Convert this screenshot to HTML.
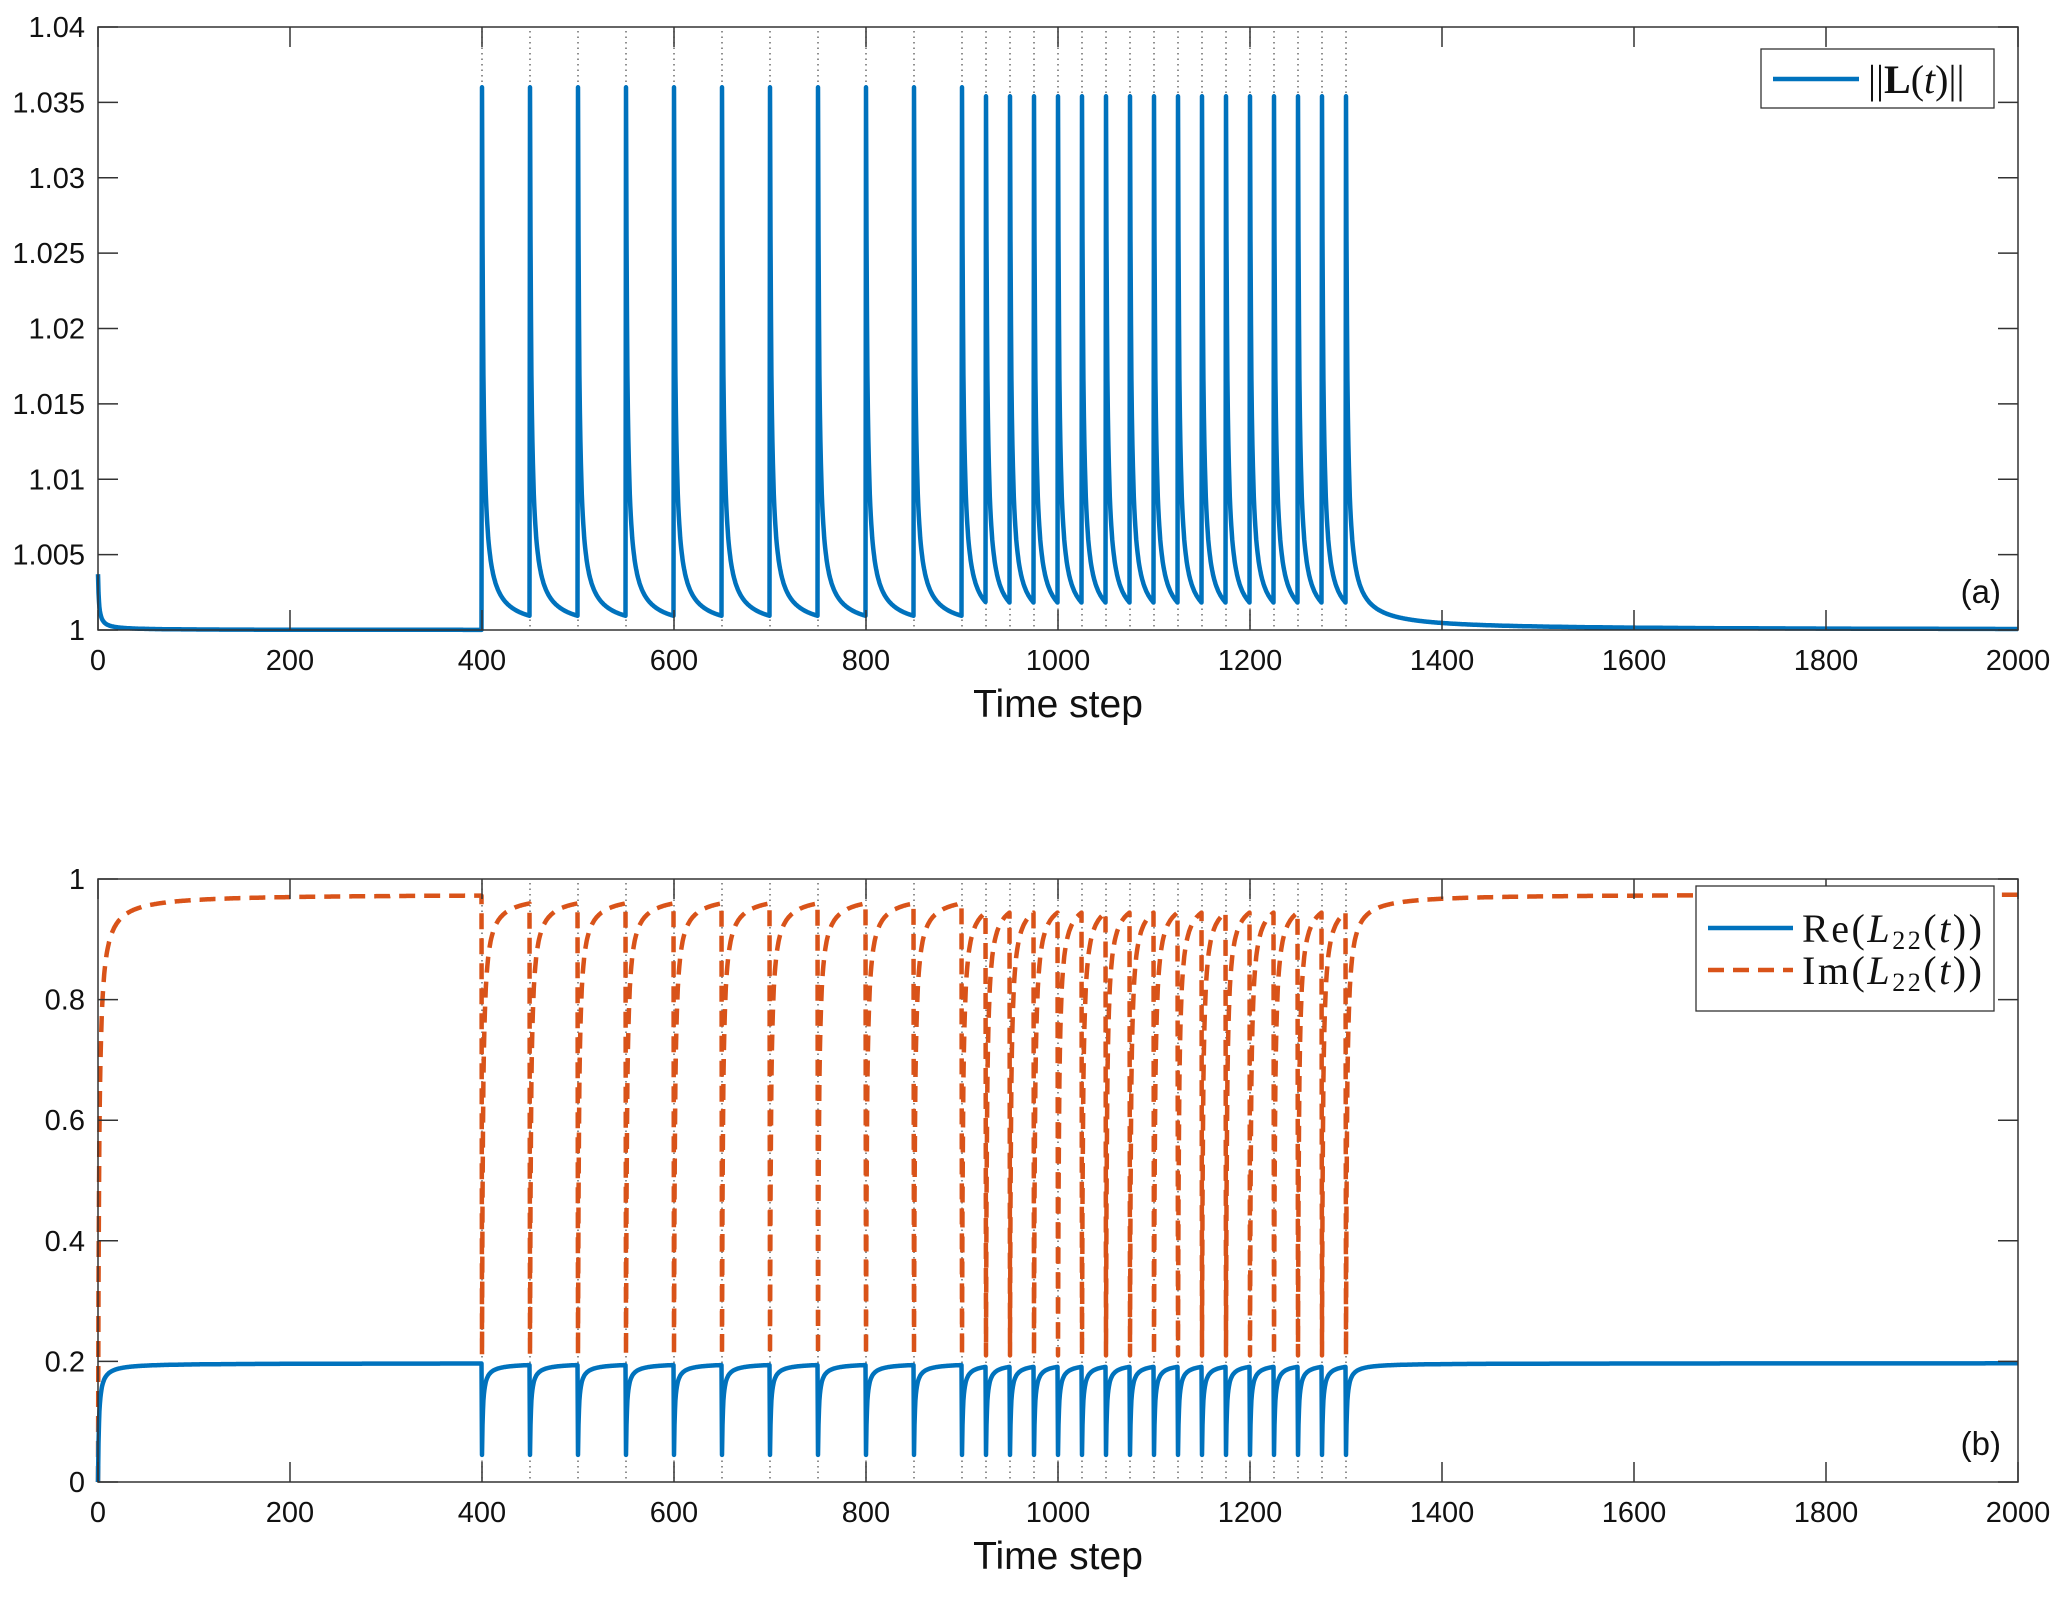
<!DOCTYPE html>
<html><head><meta charset="utf-8"><style>
html,body{margin:0;padding:0;background:#fff;}
svg{display:block;}
text{font-family:"Liberation Sans",sans-serif;fill:#111;}
.math{font-family:"Liberation Serif",serif;}
</style></head><body>
<svg id="fig" width="2067" height="1597" viewBox="0 0 2067 1597" xmlns="http://www.w3.org/2000/svg">
<g id="panelA"></g>
<g id="panelB"></g>
</svg>
<script>
// ---- data ----
const pulseTimes = [400,450,500,550,600,650,700,750,800,850,900,925,950,975,1000,1025,1050,1075,1100,1125,1150,1175,1200,1225,1250,1275,1300];
const normPeak = [1.036,1.036,1.036,1.036,1.036,1.036,1.036,1.036,1.036,1.036,1.036,1.0354,1.0354,1.0354,1.0354,1.0354,1.0354,1.0354,1.0354,1.0354,1.0354,1.0354,1.0354,1.0354,1.0354,1.0354,1.0354];
const normStart = 1.0037;
const normBase = 1.0;
const reBase = 0.197, reDip = 0.045;
const imBase = 0.975, imDip = 0.21;
const recoveryRate = 0.75;
const xTicks = [0,200,400,600,800,1000,1200,1400,1600,1800,2000];
const yTicksA = [1,1.005,1.01,1.015,1.02,1.025,1.03,1.035,1.04];
const yTicksALabels = ["1","1.005","1.01","1.015","1.02","1.025","1.03","1.035","1.04"];
const yTicksB = [0,0.2,0.4,0.6,0.8,1];
const yTicksBLabels = ["0","0.2","0.4","0.6","0.8","1"];

const NS="http://www.w3.org/2000/svg";
function mk(parent,tag,attrs){const e=document.createElementNS(NS,tag);for(const k in attrs)e.setAttribute(k,attrs[k]);parent.appendChild(e);return e;}

const L=98,R=2018;
const X=t=>L+(t/2000)*(R-L);
const A={top:27,bot:630,min:1,max:1.04};
const B={top:879,bot:1482,min:0,max:1};
const YA=v=>A.bot-(v-A.min)/(A.max-A.min)*(A.bot-A.top);
const YB=v=>B.bot-(v-B.min)/(B.max-B.min)*(B.bot-B.top);

function lastPulse(t){let idx=-1;for(let i=0;i<pulseTimes.length;i++){if(pulseTimes[i]<=t)idx=i;}return idx;}
function normAt(t){const i=lastPulse(t);if(i<0){return normBase+(normStart-normBase)/(1+recoveryRate*t*1.3);}const dt=t-pulseTimes[i];return normBase+(normPeak[i]-normBase)/(1+recoveryRate*dt);}
function recAt(t,base,dip){const i=lastPulse(t);const dt=i<0?t:t-pulseTimes[i];const start=i<0?0:dip;return base-(base-start)/(1+recoveryRate*dt*1.3);}

function axes(g,P){
  mk(g,'rect',{x:L,y:P.top,width:R-L,height:P.bot-P.top,fill:'#fff',stroke:'none'});
  pulseTimes.forEach(t=>{const l=mk(g,'line',{x1:X(t),x2:X(t),y1:P.top+4,y2:P.bot,stroke:'#555','stroke-width':1.3,'stroke-dasharray':'1.5 4'});
    
    });
}
function frame(g,P,Y,yt,ylab,label,name){
  const box=mk(g,'rect',{x:L,y:P.top,width:R-L,height:P.bot-P.top,fill:'none',stroke:'#333','stroke-width':1.5});
  
  
  xTicks.forEach(t=>{
    mk(g,'line',{x1:X(t),x2:X(t),y1:P.bot,y2:P.bot-20,stroke:'#333','stroke-width':1.5});
    mk(g,'line',{x1:X(t),x2:X(t),y1:P.top,y2:P.top+20,stroke:'#333','stroke-width':1.5});
    const tx=mk(g,'text',{x:X(t),y:P.bot+40,'font-size':29,'text-anchor':'middle'});tx.textContent=t;
    
    
  });
  yt.forEach((v,i)=>{
    mk(g,'line',{x1:L,x2:L+20,y1:Y(v),y2:Y(v),stroke:'#333','stroke-width':1.5});
    mk(g,'line',{x1:R,x2:R-20,y1:Y(v),y2:Y(v),stroke:'#333','stroke-width':1.5});
    const tx=mk(g,'text',{x:L-13,y:Y(v)+10,'font-size':29,'text-anchor':'end'});tx.textContent=ylab[i];
    
    
  });
  const xl=mk(g,'text',{x:(L+R)/2,y:P.bot+87,'font-size':39,'text-anchor':'middle'});xl.textContent='Time step';
  
  
  const pl=mk(g,'text',{x:R-17,y:P.bot-27,'font-size':33,'text-anchor':'end'});pl.textContent=label;
  
  
}
function path(g,f,Y,attrs,name){
  let d='';for(let t=0;t<=2000;t+=0.5){d+=(t?'L':'M')+X(t).toFixed(1)+' '+Y(f(t)).toFixed(1);}
  const p=mk(g,'path',Object.assign({d:d,fill:'none','stroke-linejoin':'round'},attrs));
  
  
  return p;
}

const gA=document.getElementById('panelA');
axes(gA,A);
path(gA,normAt,YA,{stroke:'#0072BD','stroke-width':4.5},'norm-line');
frame(gA,A,YA,yTicksA,yTicksALabels,'(a)','panel-a');
const lgA=mk(gA,'g',{});


mk(lgA,'rect',{x:1761,y:49,width:233,height:59,fill:'#fff',stroke:'#333','stroke-width':1.3});
mk(lgA,'line',{x1:1773,x2:1859,y1:79,y2:79,stroke:'#0072BD','stroke-width':4.5});
const ta=mk(lgA,'text',{x:1868,y:93,'font-size':40,class:'math'});
ta.innerHTML='||<tspan font-weight="bold">L</tspan>(<tspan font-style="italic">t</tspan>)||';

const gB=document.getElementById('panelB');
axes(gB,B);
path(gB,t=>recAt(t,imBase,imDip),YB,{stroke:'#D95319','stroke-width':4.5,'stroke-dasharray':'16 9'},'im-line');
path(gB,t=>recAt(t,reBase,reDip),YB,{stroke:'#0072BD','stroke-width':4.5},'re-line');
frame(gB,B,YB,yTicksB,yTicksBLabels,'(b)','panel-b');
const lgB=mk(gB,'g',{});


mk(lgB,'rect',{x:1696,y:886,width:298,height:125,fill:'#fff',stroke:'#333','stroke-width':1.3});
mk(lgB,'line',{x1:1708,x2:1793,y1:928,y2:928,stroke:'#0072BD','stroke-width':4.5});
mk(lgB,'line',{x1:1708,x2:1793,y1:970,y2:970,stroke:'#D95319','stroke-width':4.5,'stroke-dasharray':'16 9'});
const tb1=mk(lgB,'text',{x:1802,y:942,'font-size':40,class:'math','textLength':180});
tb1.innerHTML='Re(<tspan font-style="italic">L</tspan><tspan font-size="26" dy="7">22</tspan><tspan dy="-7">(</tspan><tspan font-style="italic">t</tspan>))';
const tb2=mk(lgB,'text',{x:1802,y:984,'font-size':40,class:'math','textLength':180});
tb2.innerHTML='Im(<tspan font-style="italic">L</tspan><tspan font-size="26" dy="7">22</tspan><tspan dy="-7">(</tspan><tspan font-style="italic">t</tspan>))';
</script>
</body></html>
